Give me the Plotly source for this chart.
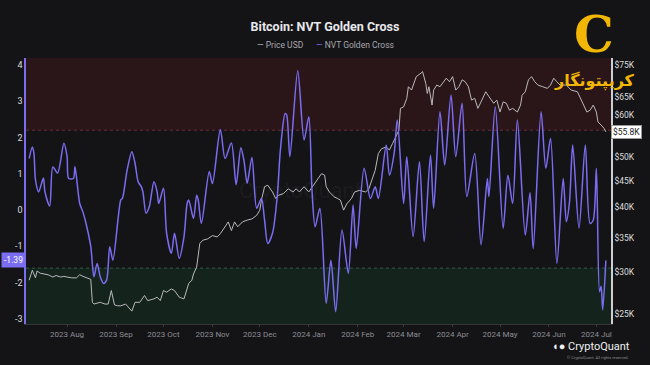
import math
import plotly.graph_objects as go

# ---------------- data ----------------
nvt_dates = [
    "2023-07-08", "2023-07-10", "2023-07-11", "2023-07-12", "2023-07-14", "2023-07-17", "2023-07-18",
    "2023-07-21", "2023-07-23", "2023-07-26", "2023-07-30", "2023-08-01", "2023-08-02", "2023-08-05",
    "2023-08-06", "2023-08-09", "2023-08-11", "2023-08-13", "2023-08-16", "2023-08-18", "2023-08-20",
    "2023-08-22", "2023-08-24", "2023-08-26", "2023-08-28", "2023-08-30", "2023-09-04", "2023-09-05",
    "2023-09-08", "2023-09-11", "2023-09-13", "2023-09-15", "2023-09-17", "2023-09-18", "2023-09-20",
    "2023-09-22", "2023-09-25", "2023-09-27", "2023-09-28", "2023-10-01", "2023-10-03", "2023-10-06",
    "2023-10-08", "2023-10-11", "2023-10-14", "2023-10-16", "2023-10-17", "2023-10-20", "2023-10-22",
    "2023-10-23", "2023-10-25", "2023-10-30", "2023-11-01", "2023-11-06", "2023-11-09", "2023-11-13",
    "2023-11-16", "2023-11-19", "2023-11-21", "2023-11-23", "2023-11-26", "2023-11-29", "2023-12-02",
    "2023-12-04", "2023-12-06", "2023-12-09", "2023-12-12", "2023-12-14", "2023-12-17", "2023-12-18",
    "2023-12-20", "2023-12-25", "2023-12-29", "2024-01-01", "2024-01-03", "2024-01-05", "2024-01-08",
    "2024-01-12", "2024-01-15", "2024-01-18", "2024-01-22", "2024-01-26", "2024-01-29", "2024-01-31",
    "2024-02-05", "2024-02-09", "2024-02-12", "2024-02-14", "2024-02-19", "2024-02-21", "2024-02-24",
    "2024-02-26", "2024-03-01", "2024-03-03", "2024-03-07", "2024-03-11", "2024-03-14", "2024-03-18",
    "2024-03-20", "2024-03-24", "2024-03-27", "2024-03-31", "2024-04-03", "2024-04-07", "2024-04-10",
    "2024-04-15", "2024-04-19", "2024-04-23", "2024-04-24", "2024-04-28", "2024-05-03", "2024-05-06",
    "2024-05-09", "2024-05-12", "2024-05-17", "2024-05-20", "2024-05-22", "2024-05-27", "2024-05-30",
    "2024-06-02", "2024-06-06", "2024-06-10", "2024-06-12", "2024-06-14", "2024-06-16", "2024-06-20",
    "2024-06-24", "2024-06-27", "2024-06-29", "2024-07-01", "2024-07-03", "2024-07-04", "2024-07-05",
    "2024-07-07",
]
nvt_values = [
    1.42, 1.74, 1.57, 0.83, 0.50, 0.88, 0.50,
    0.11, 1.19, 1.02, 1.84, 1.47, 0.87, 0.87,
    1.19, 0.18, -0.05, -0.37, -1.01, -1.84, -1.47,
    -1.84, -2.02, -1.93, -1.01, -1.38, 0.28, 0.32,
    1.10, 1.61, 1.29, 0.78, 0.64, 0.50, -0.09,
    0.09, 0.78, 0.50, 0.18, 0.60, -0.64, -1.19,
    -0.64, -1.33, -0.73, 0.18, 0.28, -0.23, 0.41,
    0.28, -0.37, 1.06, 0.73, 2.22, 1.42, 1.85,
    0.70, 1.72, 1.35, 0.74, 1.45, 0.05, 0.32,
    -0.28, -0.92, -0.64, 0.37, 1.65, 2.66, 2.62,
    1.47, 3.84, 1.93, 2.57, 0.55, -0.46, 0.05,
    -2.57, -1.38, -2.80, -0.55, -1.74, 0.14, -1.06,
    1.15, 0.32, 0.64, 0.32, 1.79, 0.96, 1.56,
    2.48, 0.18, 1.47, -0.73, 1.33, -0.87, 1.52,
    0.05, 2.71, 1.24, 3.17, 1.47, 2.94, 0.37,
    1.56, -0.96, 0.87, 0.37, 2.85, -0.50, 0.96,
    0.18, 2.48, -0.69, 0.48, -1.06, 2.71, 1.15,
    1.97, -1.47, 0.87, -0.32, 0.23, 1.79, -0.50,
    1.79, -0.37, -0.28, 1.15, -2.25, -2.10, -2.75,
    -1.39,
]

price_dates = [
    "2023-07-08", "2023-07-10", "2023-07-12", "2023-07-13", "2023-07-15", "2023-07-18", "2023-07-20",
    "2023-07-23", "2023-07-25", "2023-07-28", "2023-07-30", "2023-08-01", "2023-08-04", "2023-08-07",
    "2023-08-09", "2023-08-11", "2023-08-13", "2023-08-16", "2023-08-17", "2023-08-18", "2023-08-20",
    "2023-08-22", "2023-08-25", "2023-08-27", "2023-08-29", "2023-08-31", "2023-09-02", "2023-09-04",
    "2023-09-07", "2023-09-09", "2023-09-11", "2023-09-13", "2023-09-16", "2023-09-19", "2023-09-21",
    "2023-09-25", "2023-09-27", "2023-09-29", "2023-10-01", "2023-10-03", "2023-10-06", "2023-10-08",
    "2023-10-11", "2023-10-14", "2023-10-15", "2023-10-17", "2023-10-19", "2023-10-20", "2023-10-22",
    "2023-10-24", "2023-10-26", "2023-10-29", "2023-11-01", "2023-11-04", "2023-11-06", "2023-11-09",
    "2023-11-11", "2023-11-13", "2023-11-15", "2023-11-17", "2023-11-20", "2023-11-23", "2023-11-26",
    "2023-11-29", "2023-12-01", "2023-12-02", "2023-12-04", "2023-12-06", "2023-12-09", "2023-12-11",
    "2023-12-13", "2023-12-16", "2023-12-19", "2023-12-22", "2023-12-24", "2023-12-26", "2023-12-29",
    "2024-01-01", "2024-01-04", "2024-01-07", "2024-01-09", "2024-01-11", "2024-01-12", "2024-01-14",
    "2024-01-17", "2024-01-19", "2024-01-21", "2024-01-23", "2024-01-25", "2024-01-28", "2024-01-30",
    "2024-02-02", "2024-02-06", "2024-02-08", "2024-02-10", "2024-02-12", "2024-02-14", "2024-02-16",
    "2024-02-19", "2024-02-21", "2024-02-23", "2024-02-27", "2024-02-28", "2024-03-01", "2024-03-03",
    "2024-03-04", "2024-03-06", "2024-03-07", "2024-03-09", "2024-03-12", "2024-03-13", "2024-03-15",
    "2024-03-16", "2024-03-17", "2024-03-19", "2024-03-20", "2024-03-22", "2024-03-24", "2024-03-26",
    "2024-03-28", "2024-03-30", "2024-04-01", "2024-04-03", "2024-04-05", "2024-04-07", "2024-04-09",
    "2024-04-11", "2024-04-13", "2024-04-15", "2024-04-17", "2024-04-19", "2024-04-22", "2024-04-24",
    "2024-04-27", "2024-04-29", "2024-05-01", "2024-05-03", "2024-05-05", "2024-05-07", "2024-05-09",
    "2024-05-12", "2024-05-14", "2024-05-15", "2024-05-17", "2024-05-19", "2024-05-21", "2024-05-23",
    "2024-05-25", "2024-05-28", "2024-05-31", "2024-06-02", "2024-06-04", "2024-06-06", "2024-06-08",
    "2024-06-12", "2024-06-15", "2024-06-19", "2024-06-21", "2024-06-23", "2024-06-25", "2024-06-27",
    "2024-06-29", "2024-07-01", "2024-07-02", "2024-07-04", "2024-07-06", "2024-07-07",
]
price_usd_k = [
    29.0, 30.3, 29.3, 30.2, 29.9, 29.8, 29.7,
    29.4, 29.6, 29.4, 29.5, 29.4, 29.3, 29.3,
    29.7, 29.5, 29.3, 29.1, 26.3, 26.1, 26.2,
    26.3, 26.1, 26.1, 27.7, 26.0, 25.9, 25.9,
    26.1, 25.7, 25.3, 26.3, 26.3, 27.1, 26.5,
    26.7, 26.9, 26.5, 27.7, 27.5, 27.9, 27.7,
    26.9, 26.7, 27.3, 28.6, 29.0, 29.8, 30.7,
    34.1, 34.6, 34.8, 35.3, 35.1, 35.6, 36.7,
    37.5, 36.1, 37.5, 36.7, 37.5, 37.8, 38.0,
    38.6, 39.5, 41.3, 43.8, 44.1, 42.8, 41.6,
    42.2, 42.5, 43.4, 42.8, 43.4, 42.8, 43.8,
    42.8, 44.1, 45.4, 46.4, 46.1, 43.8, 42.8,
    41.9, 41.6, 41.3, 39.5, 40.6, 41.6, 42.8,
    43.1, 42.8, 43.4, 45.1, 47.1, 50.7, 51.8,
    52.2, 51.5, 53.0, 56.2, 61.9, 62.3, 64.7,
    68.1, 67.1, 68.6, 71.2, 72.3, 72.8, 69.1,
    66.1, 68.1, 62.8, 67.1, 68.6, 68.1, 69.6,
    70.7, 69.6, 71.2, 67.1, 68.1, 70.2, 69.6,
    68.1, 64.2, 64.7, 61.9, 63.7, 66.6, 65.2,
    63.3, 64.2, 60.9, 63.7, 63.3, 61.4, 61.9,
    60.9, 62.8, 65.6, 66.6, 70.2, 71.2, 69.6,
    68.6, 68.1, 67.6, 68.6, 70.7, 69.6, 68.6,
    68.6, 67.1, 66.6, 64.7, 62.8, 60.9, 61.4,
    62.8, 60.9, 58.3, 57.5, 56.6, 55.8,
]

month_ticks = ["2023-08-01", "2023-09-01", "2023-10-01", "2023-11-01", "2023-12-01", "2024-01-01",
               "2024-02-01", "2024-03-01", "2024-04-01", "2024-05-01", "2024-06-01", "2024-07-01"]
month_labels = ["2023 Aug", "2023 Sep", "2023 Oct", "2023 Nov", "2023 Dec", "2024 Jan",
                "2024 Feb", "2024 Mar", "2024 Apr", "2024 May", "2024 Jun", "2024 Jul"]
nvt_ticks = [-3, -2, -1, 0, 1, 2, 3, 4]
# $55K and $70K sit under the last-price box and the logo in the reference
price_ticks_k = [25, 30, 35, 40, 45, 50, 60, 65, 75]

upper_band = 2.2
lower_band = -1.6
nvt_last_label = "-1.39"
price_last_label = "$55.8K"

# ---------------- styling ----------------
BG = "#141417"
PURPLE = "#7b6df2"
PRICE_COLOR = "#b9b9bd"
GOLD = "#f2b705"
FONT = "Roboto"
NVT_RANGE = [-3.14, 4.19]
PRICE_RANGE = [math.log10(23900), math.log10(77300)]

# plot area in pixels: x 26..611, y 58..324
PX_L, PX_R, PX_T, PX_B = 26, 611, 58, 324


def px_x(x):
    return (x - PX_L) / (PX_R - PX_L)


def px_y(y):
    return (PX_B - y) / (PX_B - PX_T)


fig = go.Figure()

fig.add_trace(go.Scatter(
    x=price_dates, y=[p * 1000 for p in price_usd_k], name="Price USD", yaxis="y",
    mode="lines", line=dict(color=PRICE_COLOR, width=1), showlegend=False,
))
fig.add_trace(go.Scatter(
    x=nvt_dates, y=nvt_values, name="NVT Golden Cross", yaxis="y2",
    mode="lines", line=dict(color=PURPLE, width=1.5, shape="spline", smoothing=0.8),
    showlegend=False,
))

shapes = [
    dict(type="rect", xref="paper", x0=0, x1=1, yref="y2", y0=upper_band, y1=NVT_RANGE[1],
         fillcolor="#2a1619", line=dict(width=0), layer="below"),
    dict(type="rect", xref="paper", x0=0, x1=1, yref="y2", y0=NVT_RANGE[0], y1=lower_band,
         fillcolor="#15231d", line=dict(width=0), layer="below"),
    dict(type="line", xref="paper", x0=0, x1=1, yref="y2", y0=upper_band, y1=upper_band,
         line=dict(color="#6a2e33", width=1, dash="dot"), layer="below"),
    dict(type="line", xref="paper", x0=0, x1=1, yref="y2", y0=lower_band, y1=lower_band,
         line=dict(color="#2e5a42", width=1, dash="dot"), layer="below"),
]

annotations = [
    # legend
    dict(xref="paper", yref="paper", x=px_x(325), y=px_y(45), xanchor="center", yanchor="middle",
         text=f"<span style='color:{PRICE_COLOR}'>—</span> Price USD      "
              f"<span style='color:{PURPLE}'>—</span> NVT Golden Cross",
         showarrow=False, font=dict(family=FONT, size=8.5, color="#a8a8ae")),
    # last NVT value label
    dict(xref="paper", x=0, xanchor="right", yref="y2", y=float(nvt_last_label), yanchor="middle",
         text=nvt_last_label, showarrow=False, bgcolor=PURPLE, borderpad=2,
         font=dict(family=FONT, size=8.5, color="#ffffff")),
    # last price label
    dict(xref="paper", x=1, xanchor="left", yref="y", y=math.log10(price_usd_k[-1] * 1000),
         yanchor="middle", text=price_last_label, showarrow=False, bgcolor="#ffffff",
         bordercolor="#9a9a9a", borderwidth=1, borderpad=1,
         font=dict(family=FONT, size=8.5, color="#222222")),
    # faint centre watermark
    dict(xref="paper", yref="paper", x=px_x(300), y=px_y(190), xanchor="center", yanchor="middle",
         text="CryptoQuant", showarrow=False,
         font=dict(family=FONT, size=22, color="rgba(255,255,255,0.05)")),
    # top-right logo watermark
    dict(xref="paper", yref="paper", x=px_x(594), y=px_y(35), xanchor="center", yanchor="middle",
         text="<b>C</b>", showarrow=False,
         font=dict(family="DejaVu Serif", size=50, color=GOLD)),
    dict(xref="paper", yref="paper", x=px_x(594), y=px_y(81), xanchor="center", yanchor="middle",
         text="<b>کریپتونگار</b>", showarrow=False,
         font=dict(family="DejaVu Sans", size=16, color=GOLD)),
    # bottom-right CryptoQuant brand
    dict(xref="paper", yref="paper", x=px_x(591), y=px_y(346.5), xanchor="center", yanchor="middle",
         text="<b>◖●</b> CryptoQuant", showarrow=False,
         font=dict(family=FONT, size=11, color="#f0f0f0")),
    dict(xref="paper", yref="paper", x=px_x(598), y=px_y(357.5), xanchor="center", yanchor="middle",
         text="© CryptoQuant. All rights reserved.", showarrow=False,
         font=dict(family=FONT, size=4, color="#8a8a8a")),
]

fig.update_layout(
    width=650, height=365,
    paper_bgcolor=BG, plot_bgcolor=BG,
    margin=dict(l=PX_L, r=650 - PX_R, t=PX_T, b=365 - PX_B),
    font=dict(family=FONT, color="#dddddd"),
    title=dict(text="<b>Bitcoin: NVT Golden Cross</b>", x=0.5, xanchor="center",
               y=1 - 27 / 365, yanchor="middle", yref="container",
               font=dict(family=FONT, size=12.5, color="#e8e8ec")),
    xaxis=dict(
        type="date", range=["2023-07-06", "2024-07-10 06:00"],
        tickvals=month_ticks, ticktext=month_labels,
        tickfont=dict(family=FONT, size=8, color="#8c8c92"),
        showgrid=False, zeroline=False, showline=True, linecolor="#34343a", linewidth=1,
        ticks="outside", ticklen=2, tickcolor="#3a3a40",
    ),
    yaxis=dict(
        type="log", side="right", range=PRICE_RANGE,
        tickvals=[p * 1000 for p in price_ticks_k], ticktext=[f"${p}K" for p in price_ticks_k],
        tickfont=dict(family=FONT, size=8.5, color="#dcdcdc"),
        showgrid=False, zeroline=False, showline=True, linecolor="#cfcfd3", linewidth=1.5,
        ticks="",
    ),
    yaxis2=dict(
        overlaying="y", side="left", range=NVT_RANGE,
        tickvals=nvt_ticks, ticktext=[str(v) for v in nvt_ticks],
        tickfont=dict(family=FONT, size=9, color="#dcdcdc"),
        showgrid=False, zeroline=False, showline=True, linecolor=PURPLE, linewidth=1.5,
        ticks="",
    ),
    shapes=shapes,
    annotations=annotations,
    showlegend=False,
)

fig.write_html(
    "out.html",
    config={"displayModeBar": False},
    post_script="document.body.style.margin='0';document.body.style.background='" + BG + "';",
)
